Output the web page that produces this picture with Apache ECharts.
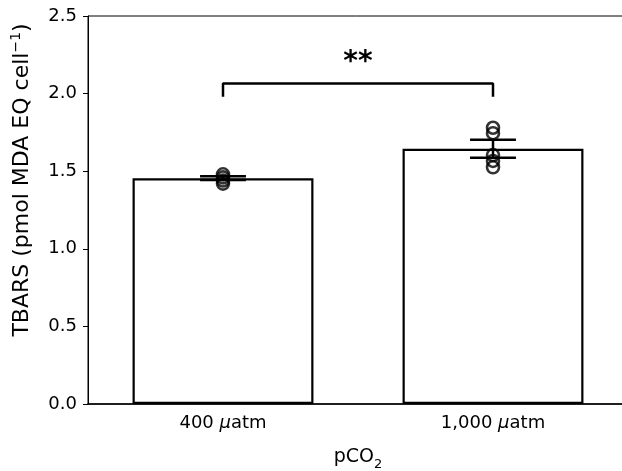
<!DOCTYPE html>
<html>
<head>
<meta charset="utf-8">
<script src="https://cdn.jsdelivr.net/npm/echarts@6/dist/echarts.min.js"></script>
<style>
html,body{margin:0;padding:0;background:#fff;}
#chart{width:622px;height:471px;}
</style>
</head>
<body>
<div id="chart"></div>
<script>
// data
const categories = ['400', '1,000'];
const means = [1.455, 1.645];
const errors = [0.012, 0.058];
const points400 = [1.48, 1.46, 1.44, 1.42];
const points1000 = [1.78, 1.745, 1.604, 1.566, 1.525];
const bracket = [1.98, 2.065]; // foot and top of the significance bracket
const sigLabel = '**';
const yMin = 0, yMax = 2.5, yStep = 0.5;

const font = 'DejaVu Sans';
const chart = echarts.init(document.getElementById('chart'));

const scatterData = points400.map(v => [0, v]).concat(points1000.map(v => [1, v]));
const errData = means.map((m, i) => [i, m, errors[i]]);

const option = {
	backgroundColor: '#fff',
	animation: false,
	// plot runs past the right edge of the picture, so no right frame shows
	grid: {left: 88, width: 540, top: 16, bottom: 67, outerBoundsMode: 'none', show: true, borderColor: '#000', borderWidth: 1},
	xAxis: {
		type: 'category',
		data: categories,
		name: 'pCO{sub|2}',
		nameLocation: 'middle',
		nameGap: 40,
		nameTextStyle: {
			fontFamily: font, fontSize: 19, color: '#000',
			rich: {sub: {fontFamily: font, fontSize: 13, color: '#000', padding: [14, 0, 0, 0]}}
		},
		axisLine: {lineStyle: {color: '#000', width: 1.5}},
		axisTick: {alignWithLabel: true, length: 5, lineStyle: {color: '#000'}},
		axisLabel: {
			fontFamily: font, fontSize: 18, color: '#000', margin: 10,
			formatter: v => v + ' {mu|μ}atm',
			rich: {mu: {fontFamily: font, fontSize: 18, color: '#000', fontStyle: 'italic'}}
		},
		splitLine: {show: false}
	},
	yAxis: {
		type: 'value',
		min: yMin, max: yMax, interval: yStep,
		name: 'TBARS (pmol MDA EQ cell{sup|−1})',
		nameLocation: 'middle',
		nameGap: 53,
		nameTextStyle: {
			fontFamily: font, fontSize: 22, color: '#000',
			padding: [0, 0, 0, 60],
			rich: {sup: {fontFamily: font, fontSize: 14, color: '#000', padding: [0, 0, 12, 0]}}
		},
		axisLine: {show: true, lineStyle: {color: '#000', width: 1}},
		axisTick: {show: true, length: 5, lineStyle: {color: '#000'}},
		axisLabel: {fontFamily: font, fontSize: 18, color: '#000', margin: 11, formatter: v => v.toFixed(1)},
		splitLine: {show: false}
	},
	series: [
		{
			type: 'bar',
			data: means,
			barWidth: '67%',
			itemStyle: {color: '#fff', borderColor: '#000', borderWidth: 2.2}
		},
		{
			type: 'custom',
			data: errData,
			z: 3,
			renderItem: function (params, api) {
				const i = api.value(0), m = api.value(1), e = api.value(2);
				const hi = api.coord([i, m + e]);
				const lo = api.coord([i, m - e]);
				const half = api.size([1, 0])[0] * 0.085;
				const style = {stroke: '#000', lineWidth: 2.5, fill: null};
				return {
					type: 'group',
					children: [
						{type: 'line', shape: {x1: hi[0], y1: hi[1], x2: lo[0], y2: lo[1]}, style: style},
						{type: 'line', shape: {x1: hi[0] - half, y1: hi[1], x2: hi[0] + half, y2: hi[1]}, style: style},
						{type: 'line', shape: {x1: lo[0] - half, y1: lo[1], x2: lo[0] + half, y2: lo[1]}, style: style}
					]
				};
			}
		},
		{
			type: 'scatter',
			data: scatterData,
			symbol: 'circle',
			symbolSize: 12,
			z: 4,
			itemStyle: {color: 'rgba(0,0,0,0)', borderColor: '#000', borderWidth: 2.6}
		},
		{
			type: 'line',
			data: [[0, bracket[0]], [0, bracket[1]], [1, bracket[1]], [1, bracket[0]]],
			symbol: 'none',
			lineStyle: {color: '#000', width: 2.5},
			markLine: {
				silent: true,
				symbol: 'none',
				lineStyle: {color: 'rgba(0,0,0,0)', width: 1},
				label: {show: true, position: 'middle', formatter: sigLabel, fontFamily: font, fontSize: 28, fontWeight: 'bold', color: '#000', distance: 7},
				data: [[{coord: [0, bracket[1]]}, {coord: [1, bracket[1]]}]]
			}
		}
	]
};

chart.setOption(option);
</script>
</body>
</html>
